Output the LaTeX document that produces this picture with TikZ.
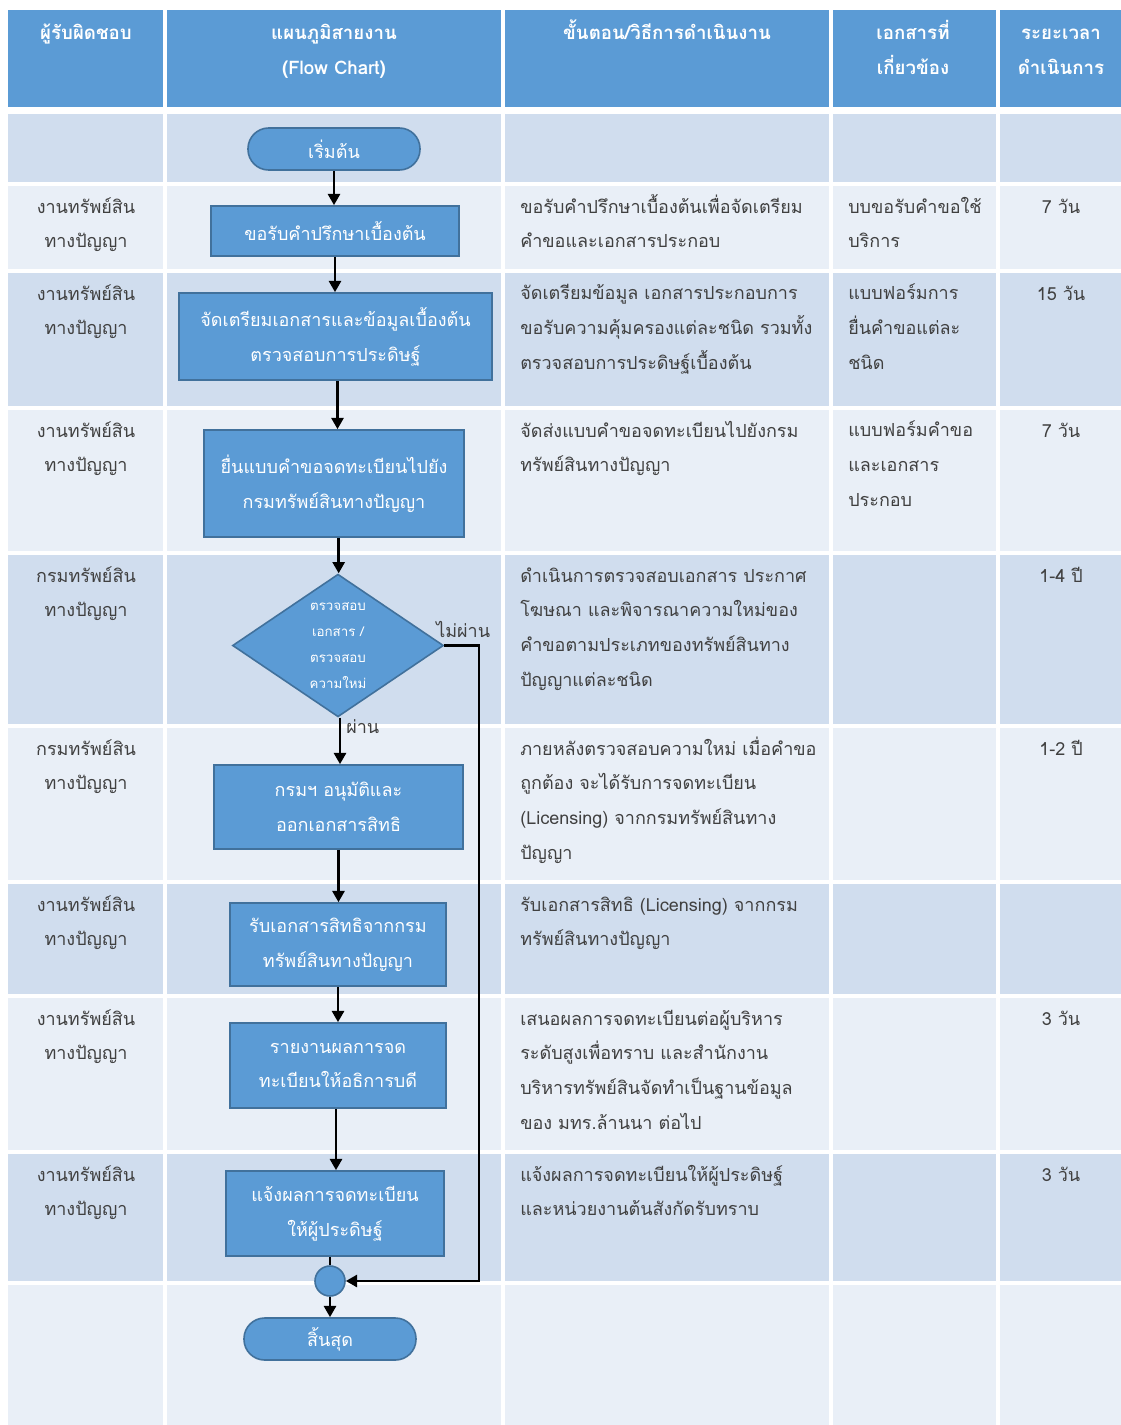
\documentclass[tikz,border=0pt]{standalone}
\usepackage{fontspec}
\setmainfont[Script=Thai]{Loma}
\usetikzlibrary{arrows.meta,shapes.geometric}
\definecolor{hdr}{RGB}{91,155,213}
\definecolor{rowD}{RGB}{208,221,238}
\definecolor{rowL}{RGB}{233,239,247}
\definecolor{boxfill}{RGB}{91,155,213}
\definecolor{boxline}{RGB}{65,113,156}
\definecolor{txt}{RGB}{64,64,64}
\newcommand{\cellfont}{\fontsize{13.5pt}{26pt}\selectfont}
\newcommand{\hfont}{\fontsize{14pt}{26pt}\selectfont}
\newcommand{\smallfont}{\fontsize{10pt}{19.5pt}\selectfont}
\tikzset{
  cell/.style={font=\cellfont, text=txt, anchor=base, inner sep=0pt, align=center},
  cellL/.style={cell, anchor=base west, align=left},
  hcell/.style={font=\hfont\bfseries, text=white, anchor=base, inner sep=0pt, align=center},
  fbox/.style={draw=boxline, fill=boxfill, line width=1.2pt, text=white, font=\cellfont, align=center, inner sep=0pt},
  pill/.style={fbox, rounded corners=15.5pt},
  ln/.style={line width=2.1pt, black},
  arr/.style={ln, -{Triangle[length=8.5pt,width=9pt]}},
  lbl/.style={font=\cellfont, text=txt, inner sep=0pt}
}
\begin{document}
\begin{tikzpicture}[x=0.75pt,y=-0.75pt]
\fill[white] (0,0) rectangle (1121,1425);
\useasboundingbox (0,0) rectangle (1121,1425);
% header
\foreach \l/\r in {8/163,167/501,505/829,833/996,1000/1121}
  \fill[hdr] (\l,10) rectangle (\r,107);
% rows
\foreach \t/\b/\c in {114/182/rowD,186/269/rowL,273/406/rowD,410/551/rowL,555/724/rowD,728/880/rowL,884/994/rowD,998/1150/rowL,1154/1281/rowD,1285/1425/rowL}
  \foreach \l/\r in {8/163,167/501,505/829,833/996,1000/1121}
    \fill[\c] (\l,\t) rectangle (\r,\b);
% header text (base anchor = baseline of the last line)
\node[hcell] (h1) at (86,39) {ผู้รับผิดชอบ};
\node[hcell] (h2) at (334,74) {แผนภูมิสายงาน\\(Flow Chart)};
\node[hcell] (h3) at (667,39) {ขั้นตอน/วิธีการดำเนินงาน};
\node[hcell] (h4) at (913,74) {เอกสารที่\\เกี่ยวข้อง};
\node[hcell] (h5) at (1061,74) {ระยะเวลา\\ดำเนินการ};
% column 1
\node[cell] (a1) at (86,247.7) {งานทรัพย์สิน\\ทางปัญญา};
\node[cell] (a2) at (86,334.7) {งานทรัพย์สิน\\ทางปัญญา};
\node[cell] (a3) at (86,471.7) {งานทรัพย์สิน\\ทางปัญญา};
\node[cell] (a4) at (86,616.7) {กรมทรัพย์สิน\\ทางปัญญา};
\node[cell] (a5) at (86,789.7) {กรมทรัพย์สิน\\ทางปัญญา};
\node[cell] (a6) at (86,945.7) {งานทรัพย์สิน\\ทางปัญญา};
\node[cell] (a7) at (86,1059.7) {งานทรัพย์สิน\\ทางปัญญา};
\node[cell] (a8) at (86,1215.7) {งานทรัพย์สิน\\ทางปัญญา};
% column 3
\node[cellL] (c1) at (520,247.7) {ขอรับคำปรึกษาเบื้องต้นเพื่อจัดเตรียม\\คำขอและเอกสารประกอบ};
\node[cellL] (c2) at (520,369.3) {จัดเตรียมข้อมูล เอกสารประกอบการ\\ขอรับความคุ้มครองแต่ละชนิด รวมทั้ง\\ตรวจสอบการประดิษฐ์เบื้องต้น};
\node[cellL] (c3) at (520,471.7) {จัดส่งแบบคำขอจดทะเบียนไปยังกรม\\ทรัพย์สินทางปัญญา};
\node[cellL] (c4) at (520,686) {ดำเนินการตรวจสอบเอกสาร ประกาศ\\โฆษณา และพิจารณาความใหม่ของ\\คำขอตามประเภทของทรัพย์สินทาง\\ปัญญาแต่ละชนิด};
\node[cellL] (c5) at (520,859) {ภายหลังตรวจสอบความใหม่ เมื่อคำขอ\\ถูกต้อง จะได้รับการจดทะเบียน\\(Licensing) จากกรมทรัพย์สินทาง\\ปัญญา};
\node[cellL] (c6) at (520,945.7) {รับเอกสารสิทธิ (Licensing) จากกรม\\ทรัพย์สินทางปัญญา};
\node[cellL] (c7) at (520,1129) {เสนอผลการจดทะเบียนต่อผู้บริหาร\\ระดับสูงเพื่อทราบ และสำนักงาน\\บริหารทรัพย์สินจัดทำเป็นฐานข้อมูล\\ของ มทร.ล้านนา ต่อไป};
\node[cellL] (c8) at (520,1215.7) {แจ้งผลการจดทะเบียนให้ผู้ประดิษฐ์\\และหน่วยงานต้นสังกัดรับทราบ};
% column 4
\node[cellL] (d1) at (848,247.7) {บบขอรับคำขอใช้\\บริการ};
\node[cellL] (d2) at (848,369.3) {แบบฟอร์มการ\\ยื่นคำขอแต่ละ\\ชนิด};
\node[cellL] (d3) at (848,506.3) {แบบฟอร์มคำขอ\\และเอกสาร\\ประกอบ};
% column 5
\node[cell] (e1) at (1061,213) {7 วัน};
\node[cell] (e2) at (1061,300) {15 วัน};
\node[cell] (e3) at (1061,437) {7 วัน};
\node[cell] (e4) at (1061,582) {1-4 ปี};
\node[cell] (e5) at (1061,755) {1-2 ปี};
\node[cell] (e7) at (1061,1025) {3 วัน};
\node[cell] (e8) at (1061,1181) {3 วัน};
% flowchart
\node[pill, minimum width=129pt, minimum height=31.5pt] (start) at (334,149) {เริ่มต้น};
\node[fbox, minimum width=186pt, minimum height=37.5pt] (b1) at (335,231) {ขอรับคำปรึกษาเบื้องต้น};
\node[fbox, minimum width=234.75pt, minimum height=65.25pt] (b2) at (335.5,336.5) {จัดเตรียมเอกสารและข้อมูลเบื้องต้น\\ตรวจสอบการประดิษฐ์};
\node[fbox, minimum width=195pt, minimum height=80.25pt] (b3) at (334,483.5) {ยื่นแบบคำขอจดทะเบียนไปยัง\\กรมทรัพย์สินทางปัญญา};
\node[fbox, diamond, font=\smallfont, minimum width=158.25pt, minimum height=101.25pt] (dia) at (338,645.5) {ตรวจสอบ\\เอกสาร /\\ตรวจสอบ\\ความใหม่};
\node[fbox, minimum width=186.75pt, minimum height=63pt] (b4) at (338.5,807) {กรมฯ อนุมัติและ\\ออกเอกสารสิทธิ};
\node[fbox, minimum width=162pt, minimum height=62.25pt] (b5) at (338,944.5) {รับเอกสารสิทธิจากกรม\\ทรัพย์สินทางปัญญา};
\node[fbox, minimum width=162pt, minimum height=63.75pt] (b6) at (338,1065.5) {รายงานผลการจด\\ทะเบียนให้อธิการบดี};
\node[fbox, minimum width=163.5pt, minimum height=63.75pt] (b7) at (335,1213.5) {แจ้งผลการจดทะเบียน\\ให้ผู้ประดิษฐ์};
\node[fbox, circle, minimum size=22.5pt] (circ) at (330,1281) {};
\node[pill, minimum width=129pt, minimum height=31.5pt] (end) at (330,1339) {สิ้นสุด};
\coordinate (fb) at (479,645.5);
% connectors
\draw[arr] (start.south) -- (start.south |- b1.north);
\draw[arr] (b1.south) -- (b1.south |- b2.north);
\draw[arr] ([xshift=1.5pt]b2.south) -- ([xshift=1.5pt]b2.south |- b3.north);
\draw[arr] ([xshift=3.5pt]b3.south) -- ([xshift=3.5pt]b3.south |- dia.north);
\draw[arr] ([xshift=1.5pt]dia.south) -- ([xshift=1.5pt]dia.south |- b4.north);
\draw[arr] (b4.south) -- (b4.south |- b5.north);
\draw[arr] (b5.south) -- (b5.south |- b6.north);
\draw[arr] ([xshift=-1.5pt]b6.south) -- ([xshift=-1.5pt]b6.south |- b7.north);
\draw[ln] (b7.south -| circ) -- (circ.north);
\draw[arr] (circ.south) -- (end.north);
\draw[arr] (dia.east) -- (fb) |- (circ.east);
\node[lbl, anchor=west] (lno) at (436,629) {ไม่ผ่าน};
\node[lbl, anchor=west] (lyes) at (346,727) {ผ่าน};
\end{tikzpicture}
\end{document}
